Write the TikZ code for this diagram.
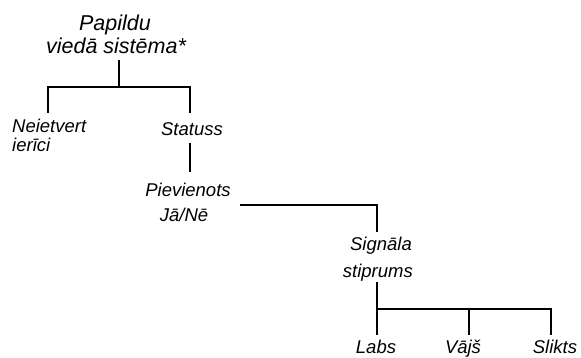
\documentclass[tikz,border=0pt]{standalone}
\usepackage{fontspec}
\setmainfont{Liberation Sans}
\begin{document}
\begin{tikzpicture}[x=1pt,y=-1pt,
  lbl/.style={font=\fontsize{18.5}{20}\selectfont\itshape, inner sep=0pt, anchor=base},
  ttl/.style={font=\fontsize{21.5}{24}\selectfont\itshape, inner sep=0pt, anchor=base},
  conn/.style={line width=1.5pt, line cap=butt}]
\useasboundingbox (0,0) rectangle (581,358);
% texts
\node[ttl] (t1) at (115,31) {Papildu};
\node[ttl] (t2) at (116,54) {viedā sistēma*};
\node[lbl, anchor=base west] (n1) at (12,133) {Neietvert};
\node[lbl, anchor=base west] (n2) at (12,152) {ierīci};
\node[lbl] (st) at (192,136) {Statuss};
\node[lbl] (p1) at (188,197) {Pievienots};
\node[lbl] (p2) at (184,222) {Jā/Nē};
\node[lbl, anchor=base east] (s1) at (412,251) {Signāla};
\node[lbl, anchor=base east] (s2) at (413,277) {stiprums};
\node[lbl] (l1) at (376,353.5) {Labs};
\node[lbl] (l2) at (463,353.5) {Vājš};
\node[lbl] (l3) at (555,353.5) {Slikts};
% junction points
\coordinate (a0) at (119,60);
\coordinate (a1) at (119,87);
\coordinate (aL) at (48,87);
\coordinate (aR) at (190,87);
\coordinate (aLe) at (48,113);
\coordinate (aRe) at (190,113);
\coordinate (b0) at (190,143);
\coordinate (b1) at (190,172);
\coordinate (c0) at (240,205);
\coordinate (c1) at (377,205);
\coordinate (c2) at (377,232);
\coordinate (d0) at (377,282);
\coordinate (d1) at (377,309);
\coordinate (d2) at (469,309);
\coordinate (d3) at (551,309);
\coordinate (e1) at (377,335);
\coordinate (e2) at (469,335);
\coordinate (e3) at (551,335);
% connectors
\draw[conn] (a0) -- (a1);
\draw[conn] (aLe) -- (aL) -- (aR) -- (aRe);
\draw[conn] (b0) -- (b1);
\draw[conn] (c0) -- (c1) -- (c2);
\draw[conn] (d0) -- (d1) -- (e1);
\draw[conn] (d1) -- (d3) -- (e3);
\draw[conn] (d2) -- (e2);
\end{tikzpicture}
\end{document}
